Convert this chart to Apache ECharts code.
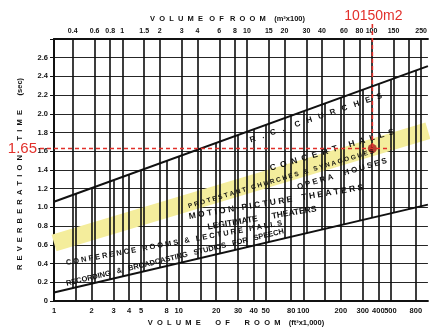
<!DOCTYPE html>
<html><head><meta charset="utf-8">
<script src="https://cdn.jsdelivr.net/npm/echarts@6/dist/echarts.min.js"></script>
<style>html,body{margin:0;padding:0;background:#fff}#c{width:430px;height:329px}</style>
</head><body><div id="c"></div>
<script>
// ---------- data ----------
const M3X100_TO_FT3X1000 = 3.531;            // 100 m³ = 3.531 thousand ft³
const bottomLabels = [1,2,3,4,5,8,10,20,30,40,50,80,100,200,300,400,500,800];
const bottomGrid   = [1.5,2,3,4,5,8,10,15,20,30,40,50,80,100,150,200,300,400,500,800];
const topLabels    = [0.4,0.6,0.8,1,1.5,2,3,4,6,8,10,15,20,30,40,60,80,100,150,250];
const topGrid      = [0.4,0.6,0.8,1,1.5,2,3,4,6,8,10,15,20,30,40,60,80,100,150,200,250];
const upperLine = [[1,1.06],[1000,2.51]];     // [ft³×1000, sec]
const lowerLine = [[1,0.09],[1000,1.03]];
const bandLine  = [[1,0.62],[1000,1.82]];
const markedVolume = 101.5;                   // m³×100  (10150 m³)
const markedTime   = 1.63;
const markedVolumeText = '10150m2';
const markedTimeText   = '1.65';
const zoneNames = ['R.C. CHURCHES','CONCERT HALLS','PROTESTANT CHURCHES & SYNAGOGUES','OPERA HOUSES',
  'MOTION-PICTURE THEATERS','LEGITIMATE THEATERS','CONFERENCE ROOMS & LECTURE HALLS',
  'RECORDING & BROADCASTING STUDIOS FOR SPEECH'];

// ---------- layout / style ----------
const FONT = 'Liberation Sans';
const zoneLayout = [
  {x:316,y:118,deg:18.7,size:8,n:3,w:5},
  {x:332,y:150,deg:16.6,size:8.5,n:2,w:5},
  {x:281,y:179,deg:16.6,size:6.5,n:1,w:3},
  {x:342,y:174,deg:16.6,size:8,n:1,w:5},
  {x:276,y:202,deg:9.5,size:8.5,n:1,w:4},
  {x:262,y:218,deg:9.5,size:8.5,n:0,w:6},
  {x:174,y:243,deg:10.5,size:7.5,n:1,w:3},
  {x:175,y:257.5,deg:13.6,size:7.5,n:0,w:3}
];
function spaced(s,n,w){
  return s.split(' ').map(word=>word.split('').join(' '.repeat(n))).join(' '.repeat(w));
}
function lineAt(line,x){
  const [x0,y0]=line[0],[x1,y1]=line[1];
  const t=(Math.log10(x)-Math.log10(x0))/(Math.log10(x1)-Math.log10(x0));
  return y0+t*(y1-y0);
}
const bottomSeg = bottomGrid.map(v=>[{coord:[v,0]},{coord:[v,lineAt(upperLine,v)]}]);
const topSeg = topGrid.map(v=>[{coord:[v,2.8]},{coord:[v,lineAt(lowerLine,v*M3X100_TO_FT3X1000)]}]);
const gridLineStyle = {color:'#0d0d0d',width:1.6,type:'solid'};
const labelStyle = {fontFamily:FONT,fontWeight:'bold',fontSize:7.5,color:'#111'};
const fmt = v => String(+v.toFixed(3));

const chart = echarts.init(document.getElementById('c'));
chart.setOption({
  animation:false,
  backgroundColor:'#fff',
  grid:{left:54,top:39,width:380,height:262},
  xAxis:[
    {type:'log',logBase:10,min:1,max:1000,position:'bottom',
     axisLine:{show:true,lineStyle:{color:'#111',width:2}},
     axisTick:{show:false},
     axisLabel:Object.assign({customValues:bottomLabels,margin:6,formatter:fmt},labelStyle),
     splitLine:{show:false},minorTick:{show:false},minorSplitLine:{show:false}},
    {type:'log',logBase:10,min:1/M3X100_TO_FT3X1000,max:1000/M3X100_TO_FT3X1000,position:'top',
     axisLine:{show:true,lineStyle:{color:'#111',width:2}},
     axisTick:{show:false},
     axisLabel:Object.assign({customValues:topLabels,margin:4,formatter:fmt},labelStyle,{fontSize:7}),
     splitLine:{show:false}}
  ],
  yAxis:{type:'value',min:0,max:2.8,interval:0.2,
    axisLine:{show:true,onZero:false,lineStyle:{color:'#111',width:2}},
    axisTick:{show:true,length:4,lineStyle:{color:'#111',width:1}},
    axisLabel:Object.assign({margin:6,formatter:v=>v===0?'0':(v>2.7?'':v.toFixed(1))},labelStyle),
    splitLine:{show:true,lineStyle:{color:'#262626',width:1.2}}},
  series:[
    {name:'band',type:'line',data:bandLine,symbol:'none',silent:true,z:1,
     lineStyle:{width:17,color:'#f4ed9c',cap:'butt'}},
    {name:'upper',type:'line',data:upperLine,symbol:'none',silent:true,z:3,
     lineStyle:{width:2,color:'#111'},
     markLine:{silent:true,symbol:['none','none'],label:{show:false},lineStyle:gridLineStyle,
       emphasis:{disabled:true},data:bottomSeg}},
    {name:'lower',type:'line',data:lowerLine,symbol:'none',silent:true,z:3,
     lineStyle:{width:2,color:'#111'}},
    {name:'topgrid',type:'line',xAxisIndex:1,data:[],symbol:'none',silent:true,
     markLine:{silent:true,symbol:['none','none'],label:{show:false},lineStyle:gridLineStyle,
       emphasis:{disabled:true},data:topSeg}},
    {name:'mark',type:'scatter',xAxisIndex:1,data:[[markedVolume,markedTime]],symbolSize:9,z:10,
     itemStyle:{color:'#a8161a'},silent:true}
  ]
});

const p = chart.convertToPixel({xAxisIndex:1,yAxisIndex:0},[markedVolume,markedTime]);
const red = '#e2302b';
const graphics = [
  {type:'line',z:50,shape:{x1:p[0],y1:24,x2:p[0],y2:p[1]},style:{stroke:red,lineWidth:1.6,lineDash:[4,3]}},
  {type:'line',z:50,shape:{x1:40,y1:p[1],x2:p[0]+18,y2:p[1]},style:{stroke:red,lineWidth:1.6,lineDash:[4,3]}},
  {type:'text',z:60,x:p[0]+1,y:16,style:{text:markedVolumeText,fill:red,font:'14px '+FONT,align:'center',verticalAlign:'middle'}},
  {type:'text',z:60,x:37,y:p[1],style:{text:markedTimeText,fill:red,font:'15px '+FONT,align:'right',verticalAlign:'middle'}},
  {type:'text',z:40,x:227.5,y:19,style:{text:'V  O  L  U  M  E   O  F   R  O  O  M    (m³x100)',fill:'#111',font:'bold 7.5px '+FONT,align:'center',verticalAlign:'middle'}},
  {type:'text',z:40,x:236,y:323,style:{text:'V  O  L  U  M  E       O  F       R  O  O  M    (ft³x1,000)',fill:'#111',font:'bold 7.5px '+FONT,align:'center',verticalAlign:'middle'}},
  {type:'text',z:40,x:20,y:174,rotation:Math.PI/2,style:{text:'R  E  V  E  R  B  E  R  A  T  I  O  N       T  I  M  E       (sec)',fill:'#111',font:'bold 7.5px '+FONT,align:'center',verticalAlign:'middle'}}
];
zoneNames.forEach((name,i)=>{
  const L = zoneLayout[i];
  graphics.push({type:'text',z:30,x:L.x,y:L.y,rotation:L.deg*Math.PI/180,
    style:{text:spaced(name,L.n,L.w),fill:'#111',font:'bold '+L.size+'px '+FONT,align:'center',verticalAlign:'middle'}});
});
chart.setOption({graphic:graphics});
</script></body></html>
